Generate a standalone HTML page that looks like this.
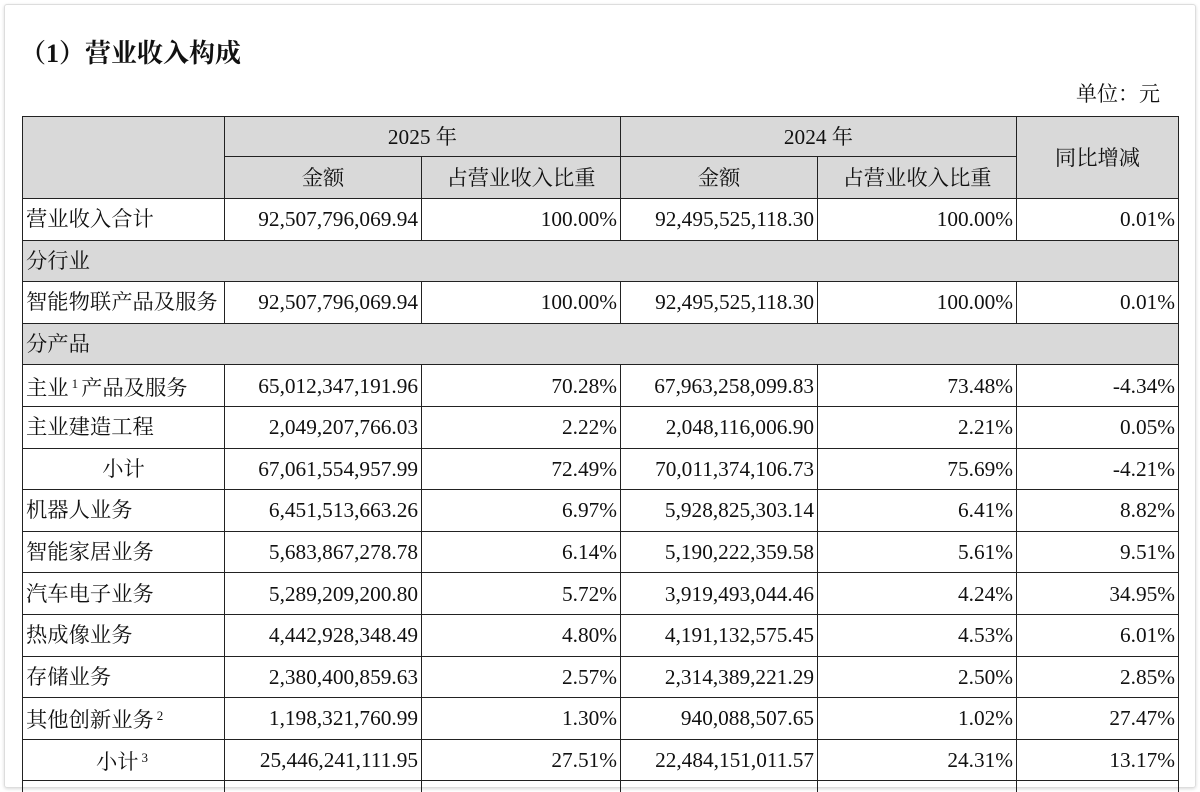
<!DOCTYPE html>
<html style="height:792px;overflow:hidden"><head><meta charset="utf-8"><style>
body{margin:0;width:1200px;height:792px;background:#fff;overflow:hidden;position:relative;font-family:"Liberation Serif","Noto Serif CJK SC",serif;color:#111}
.card{position:absolute;left:4px;top:4px;width:1190px;height:782px;border:1px solid #ddd;border-radius:3px;box-shadow:0 1px 3px rgba(0,0,0,.15)}
.title{position:absolute;left:20px;top:33px;font-size:26px;font-weight:bold}
.unit{position:absolute;right:40px;top:78px;font-size:21px}
.wrap{position:absolute;left:0;top:0;width:1200px;height:792px;overflow:hidden}
table{position:absolute;left:22px;top:116px;border-collapse:collapse;font-size:21.3px;table-layout:fixed}
td{border:1.5px solid #222;padding:0 3px;white-space:nowrap;line-height:24px}
tr{height:41.6px}
.g{background:#d9d9d9}
.c{text-align:center}.r{text-align:right}
sup{font-size:13px;vertical-align:7px;margin:0 3px}
</style></head><body>
<div class="card"></div>
<div class="title">（1）营业收入构成</div>
<div class="unit">单位：元</div>
<div class="wrap">
<table>
<colgroup><col style="width:202px"><col style="width:197px"><col style="width:199px"><col style="width:197px"><col style="width:199px"><col style="width:162px"></colgroup>
<tr class="g" style="height:40px"><td rowspan="2"></td><td colspan="2" class="c">2025 年</td><td colspan="2" class="c">2024 年</td><td rowspan="2" class="c">同比增减</td></tr>
<tr class="g" style="height:42px"><td class="c">金额</td><td class="c">占营业收入比重</td><td class="c">金额</td><td class="c">占营业收入比重</td></tr>
<tr><td>营业收入合计</td><td class="r">92,507,796,069.94</td><td class="r">100.00%</td><td class="r">92,495,525,118.30</td><td class="r">100.00%</td><td class="r">0.01%</td></tr>
<tr class="g"><td colspan="6">分行业</td></tr>
<tr><td>智能物联产品及服务</td><td class="r">92,507,796,069.94</td><td class="r">100.00%</td><td class="r">92,495,525,118.30</td><td class="r">100.00%</td><td class="r">0.01%</td></tr>
<tr class="g"><td colspan="6">分产品</td></tr>
<tr><td>主业<sup>1</sup>产品及服务</td><td class="r">65,012,347,191.96</td><td class="r">70.28%</td><td class="r">67,963,258,099.83</td><td class="r">73.48%</td><td class="r">-4.34%</td></tr>
<tr><td>主业建造工程</td><td class="r">2,049,207,766.03</td><td class="r">2.22%</td><td class="r">2,048,116,006.90</td><td class="r">2.21%</td><td class="r">0.05%</td></tr>
<tr><td class="c">小计</td><td class="r">67,061,554,957.99</td><td class="r">72.49%</td><td class="r">70,011,374,106.73</td><td class="r">75.69%</td><td class="r">-4.21%</td></tr>
<tr><td>机器人业务</td><td class="r">6,451,513,663.26</td><td class="r">6.97%</td><td class="r">5,928,825,303.14</td><td class="r">6.41%</td><td class="r">8.82%</td></tr>
<tr><td>智能家居业务</td><td class="r">5,683,867,278.78</td><td class="r">6.14%</td><td class="r">5,190,222,359.58</td><td class="r">5.61%</td><td class="r">9.51%</td></tr>
<tr><td>汽车电子业务</td><td class="r">5,289,209,200.80</td><td class="r">5.72%</td><td class="r">3,919,493,044.46</td><td class="r">4.24%</td><td class="r">34.95%</td></tr>
<tr><td>热成像业务</td><td class="r">4,442,928,348.49</td><td class="r">4.80%</td><td class="r">4,191,132,575.45</td><td class="r">4.53%</td><td class="r">6.01%</td></tr>
<tr><td>存储业务</td><td class="r">2,380,400,859.63</td><td class="r">2.57%</td><td class="r">2,314,389,221.29</td><td class="r">2.50%</td><td class="r">2.85%</td></tr>
<tr><td>其他创新业务<sup>2</sup></td><td class="r">1,198,321,760.99</td><td class="r">1.30%</td><td class="r">940,088,507.65</td><td class="r">1.02%</td><td class="r">27.47%</td></tr>
<tr><td class="c">小计<sup>3</sup></td><td class="r">25,446,241,111.95</td><td class="r">27.51%</td><td class="r">22,484,151,011.57</td><td class="r">24.31%</td><td class="r">13.17%</td></tr>
<tr><td></td><td></td><td></td><td></td><td></td><td></td></tr>
</table>
</div>
</body></html>
